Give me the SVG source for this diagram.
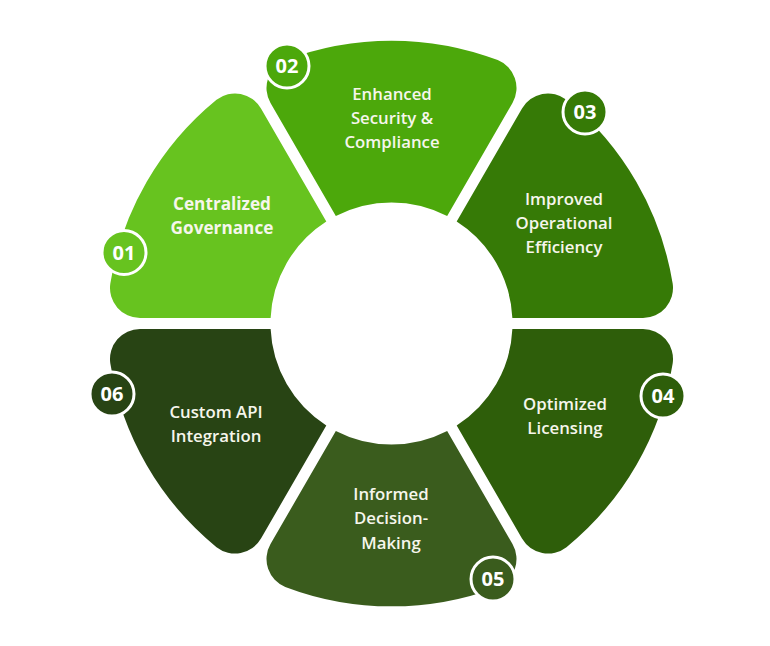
<svg xmlns="http://www.w3.org/2000/svg" xmlns:xlink="http://www.w3.org/1999/xlink" width="770" height="646" viewBox="0 0 770 646">
  <style>
    .lbl { font-family: "Open Sans", "Liberation Sans", sans-serif; font-size: 16.8px; font-weight: 600; fill: #f6f6ec; text-anchor: middle; }
    .lbl.b { font-weight: 700; font-size: 17.2px; }
    .num { font-family: "Open Sans", "Liberation Sans", sans-serif; font-size: 20px; font-weight: 700; fill: #ffffff; text-anchor: middle; }
    .badge { stroke: #ffffff; stroke-width: 3; }
  </style>
  <defs>
    <path id="seg" d="M447.17,216.07 L512.49,102.94 A30,30 0 0 0 497.73,60.12 A300,300 0 0 0 285.27,60.12 A30,30 0 0 0 270.51,102.94 L335.83,216.07 A121,121 0 0 1 447.17,216.07 Z"/>
  </defs>
  <rect width="770" height="646" fill="#ffffff"/>
  <g id="connectors"/>
  <g id="node-01">
    <use href="#seg" xlink:href="#seg" transform="rotate(-60 391.5 323.5)" fill="#67c31f"/>
    <text class="lbl b" x="222" y="210">Centralized</text>
    <text class="lbl b" x="222" y="234">Governance</text>
    <circle class="badge" cx="124" cy="252.5" r="22" fill="#67c31f"/>
    <text class="num" x="124" y="259.5">01</text>
  </g>
  <g id="node-02">
    <use href="#seg" xlink:href="#seg" fill="#4ca80b"/>
    <text class="lbl" x="392" y="100">Enhanced</text>
    <text class="lbl" x="392" y="124">Security &amp;</text>
    <text class="lbl" x="392" y="148">Compliance</text>
    <circle class="badge" cx="287" cy="66" r="22" fill="#4ca80b"/>
    <text class="num" x="287" y="73">02</text>
  </g>
  <g id="node-03">
    <use href="#seg" xlink:href="#seg" transform="rotate(60 391.5 323.5)" fill="#367a06"/>
    <text class="lbl" x="564" y="205">Improved</text>
    <text class="lbl" x="564" y="229">Operational</text>
    <text class="lbl" x="564" y="253">Efficiency</text>
    <circle class="badge" cx="585" cy="112" r="22" fill="#367a06"/>
    <text class="num" x="585" y="119">03</text>
  </g>
  <g id="node-04">
    <use href="#seg" xlink:href="#seg" transform="rotate(120 391.5 323.5)" fill="#2e5e0a"/>
    <text class="lbl" x="565" y="410">Optimized</text>
    <text class="lbl" x="565" y="434">Licensing</text>
    <circle class="badge" cx="663" cy="396" r="22" fill="#2e5e0a"/>
    <text class="num" x="663" y="403">04</text>
  </g>
  <g id="node-05">
    <use href="#seg" xlink:href="#seg" transform="rotate(180 391.5 323.5)" fill="#3a5c1d"/>
    <text class="lbl" x="391" y="500">Informed</text>
    <text class="lbl" x="391" y="524">Decision-</text>
    <text class="lbl" x="391" y="549">Making</text>
    <circle class="badge" cx="493" cy="579" r="22" fill="#3a5c1d"/>
    <text class="num" x="493" y="586">05</text>
  </g>
  <g id="node-06">
    <use href="#seg" xlink:href="#seg" transform="rotate(240 391.5 323.5)" fill="#284414"/>
    <text class="lbl" x="216" y="418">Custom API</text>
    <text class="lbl" x="216" y="442">Integration</text>
    <circle class="badge" cx="112" cy="394" r="22" fill="#284414"/>
    <text class="num" x="112" y="401">06</text>
  </g>
</svg>
